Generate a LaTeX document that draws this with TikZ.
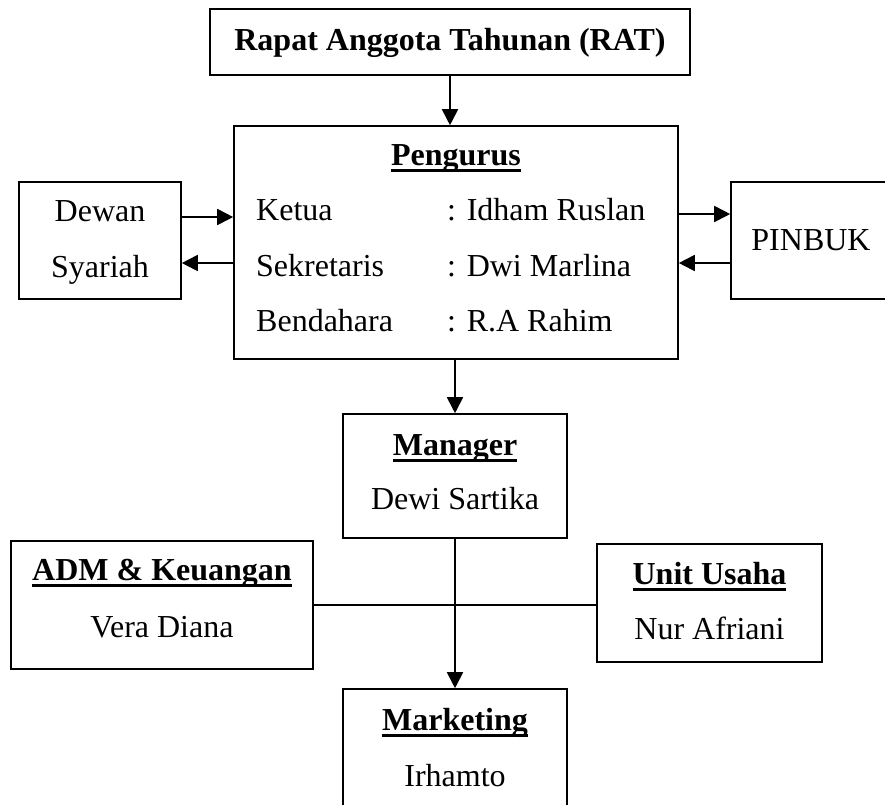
\documentclass[tikz,border=0pt]{standalone}
\usepackage{fontspec}
\setmainfont{Liberation Serif}
\usetikzlibrary{arrows.meta}
\newsavebox{\ulbox}
\newcommand{\uln}[1]{\sbox\ulbox{#1}\rlap{\rule[-7pt]{\wd\ulbox}{3pt}}\usebox\ulbox}

\begin{document}
\begin{tikzpicture}[x=1pt, y=-1pt]
	\tikzstyle{every node}=[font=\fontsize{32}{38}\selectfont]
	\tikzstyle{box}=[draw, line width=1.6pt, fill=white, inner sep=0pt]
	\tikzstyle{txt}=[inner sep=0pt, anchor=base]
	\tikzstyle{row}=[inner sep=0pt, anchor=base west]
	\tikzstyle{arr}=[line width=1.8pt, -{Triangle[length=16pt,width=16pt]}]

	\clip (0,0) rectangle (885,804);

	%boxes
	\node[box, minimum width=480, minimum height=66] (rat) at (450,42) {};
	\node[box, minimum width=444, minimum height=233] (pengurus) at (456,242.5) {};
	\node[box, minimum width=162, minimum height=117] (dewan) at (100,240.5) {};
	\node[box, minimum width=160, minimum height=117] (pinbuk) at (811,240.5) {};
	\node[box, minimum width=224, minimum height=124] (manager) at (455,476) {};
	\node[box, minimum width=302, minimum height=128] (adm) at (162,605) {};
	\node[box, minimum width=225, minimum height=118] (unit) at (709.5,603) {};
	\node[box, minimum width=224, minimum height=124] (marketing) at (455,751) {};

	%texts
	\node[txt] (rattitle) at (450,50) {\bfseries Rapat Anggota Tahunan (RAT)};
	\node[txt] (pengurustitle) at (456,165) {\bfseries\uln{Pengurus}};
	\node[row] (ketua) at (256,220) {Ketua};
	\node[row] (sekretaris) at (256,276) {Sekretaris};
	\node[row] (bendahara) at (256,331) {Bendahara};
	\node[row] (ketuaname) at (447,220) {: Idham Ruslan};
	\node[row] (sekretarisname) at (447,276) {: Dwi Marlina};
	\node[row] (bendaharaname) at (447,331) {: R.A Rahim};
	\node[txt] (dewan1) at (100,221) {Dewan};
	\node[txt] (dewan2) at (100,277) {Syariah};
	\node[txt] (pinbuktext) at (811,250) {PINBUK};
	\node[txt] (managertitle) at (455,455) {\bfseries\uln{Manager}};
	\node[txt] (managername) at (455,509) {Dewi Sartika};
	\node[txt] (admtitle) at (162,580) {\bfseries\uln{ADM \& Keuangan}};
	\node[txt] (admname) at (162,637) {Vera Diana};
	\node[txt] (unittitle) at (709.5,584) {\bfseries\uln{Unit Usaha}};
	\node[txt] (unitname) at (709.5,639) {Nur Afriani};
	\node[txt] (marketingtitle) at (455,730) {\bfseries\uln{Marketing}};
	\node[txt] (marketingname) at (455,786) {Irhamto};

	%connectors
	\draw[arr] (rat.south) -- (rat.south |- pengurus.north);
	\draw[arr] ([yshift=23.5]dewan.east) -- ([yshift=23.5]dewan.east -| pengurus.west);
	\draw[arr] ([yshift=-22.5]dewan.east -| pengurus.west) -- ([yshift=-22.5]dewan.east);
	\draw[arr] ([yshift=26.5]pinbuk.west -| pengurus.east) -- ([yshift=26.5]pinbuk.west);
	\draw[arr] ([yshift=-22.5]pinbuk.west) -- ([yshift=-22.5]pinbuk.west -| pengurus.east);
	\draw[arr] (manager.north |- pengurus.south) -- (manager.north);
	\draw[line width=1.6pt] (adm.east) -- (adm.east -| unit.west);
	\draw[arr] (manager.south) -- (marketing.north);
\end{tikzpicture}
\end{document}
